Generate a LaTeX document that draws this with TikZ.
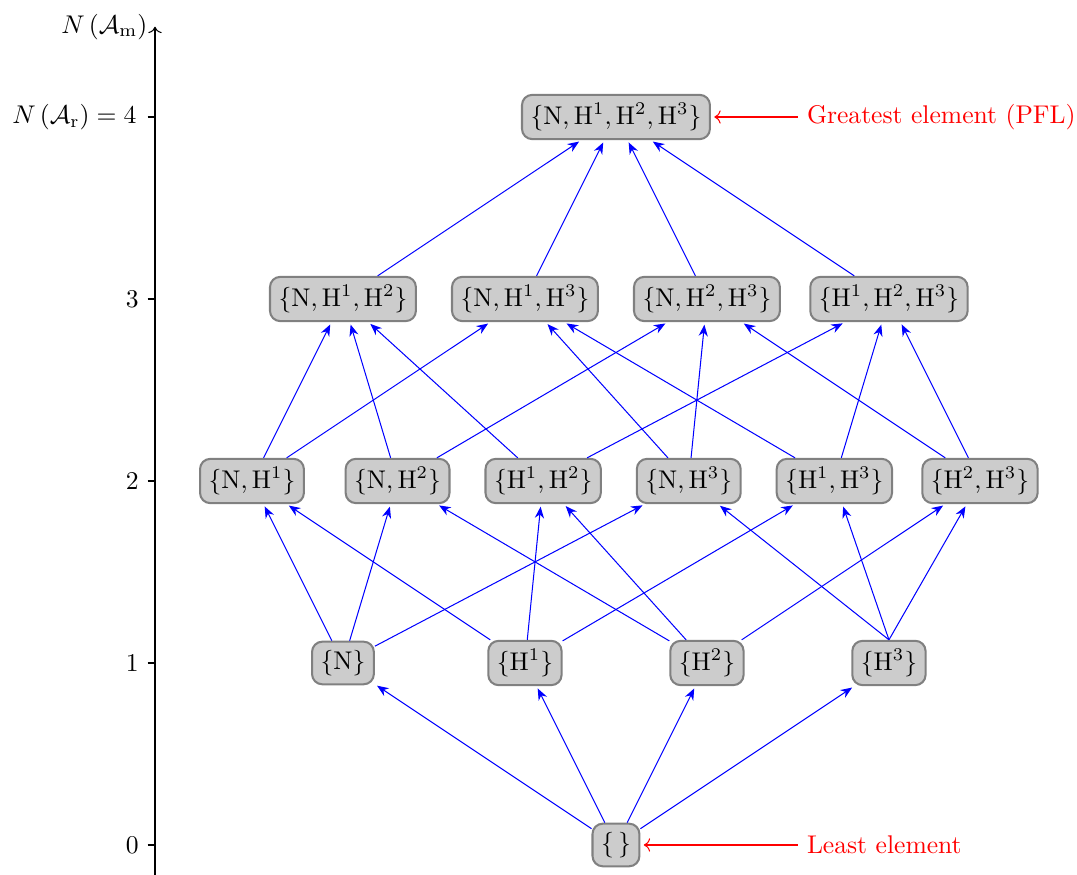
\documentclass[tikz,border=0pt]{standalone}
\usetikzlibrary{arrows.meta}
\begin{document}
\begin{tikzpicture}[
  setnode/.style={draw=gray, thick, fill=gray!40, rounded corners=4pt, inner sep=3.33pt},
  hasse/.style={blue, -{Stealth[length=4.5pt,width=3.6pt]}, shorten >=1pt},
  tag/.style={red, anchor=west},
  tagarrow/.style={red, ->, shorten >=1.3pt},
  tick/.style={black}
]
\useasboundingbox (-2.129,-0.412) rectangle (12.665,11.607);
% axis
\draw[->] (0,-0.45) -- (0,11.24) coordinate (axtop);
\node[anchor=east] (axlabel) at (0.02,11.24) {$N\left(\mathcal{A}_{\mathrm{m}}\right)$};
\foreach \k in {0,1,2,3} {
  \draw[tick] (-0.1,2.5*\k) -- (0,2.5*\k);
  \node[anchor=east] (lab\k) at (-0.1,2.5*\k) {$\k$};
}
\draw[tick] (-0.1,10) -- (0,10);
\node[anchor=east] (lab4) at (-0.13,10) {$N\left(\mathcal{A}_{\mathrm{r}}\right)=4$};

% level 0
\node[setnode] (e) at (6.332,0) {$\{\,\}$};
% level 1
\node[setnode] (n)  at (2.582,2.5) {$\{\mathrm{N}\}$};
\node[setnode] (h1) at (5.082,2.5) {$\{\mathrm{H}^1\}$};
\node[setnode] (h2) at (7.582,2.5) {$\{\mathrm{H}^2\}$};
\node[setnode] (h3) at (10.082,2.5) {$\{\mathrm{H}^3\}$};
% level 2
\node[setnode] (nh1) at (1.332,5) {$\{\mathrm{N},\mathrm{H}^1\}$};
\node[setnode] (nh2) at (3.332,5) {$\{\mathrm{N},\mathrm{H}^2\}$};
\node[setnode] (h12) at (5.332,5) {$\{\mathrm{H}^1,\mathrm{H}^2\}$};
\node[setnode] (nh3) at (7.332,5) {$\{\mathrm{N},\mathrm{H}^3\}$};
\node[setnode] (h13) at (9.332,5) {$\{\mathrm{H}^1,\mathrm{H}^3\}$};
\node[setnode] (h23) at (11.332,5) {$\{\mathrm{H}^2,\mathrm{H}^3\}$};
% level 3
\node[setnode] (nh12) at (2.582,7.5) {$\{\mathrm{N},\mathrm{H}^1,\mathrm{H}^2\}$};
\node[setnode] (nh13) at (5.082,7.5) {$\{\mathrm{N},\mathrm{H}^1,\mathrm{H}^3\}$};
\node[setnode] (nh23) at (7.582,7.5) {$\{\mathrm{N},\mathrm{H}^2,\mathrm{H}^3\}$};
\node[setnode] (h123) at (10.082,7.5) {$\{\mathrm{H}^1,\mathrm{H}^2,\mathrm{H}^3\}$};
% level 4
\node[setnode] (all) at (6.332,10) {$\{\mathrm{N},\mathrm{H}^1,\mathrm{H}^2,\mathrm{H}^3\}$};

% edges 0 -> 1
\foreach \b in {n,h1,h2,h3} \draw[hasse] (e) -- (\b);
% edges 1 -> 2
\foreach \a/\b in {n/nh1,n/nh2,n/nh3,h1/nh1,h1/h12,h1/h13,h2/nh2,h2/h12,h2/h23}
  \draw[hasse] (\a) -- (\b);
\foreach \b in {nh3,h13,h23}
  \draw[hasse] (h3.north) -- (\b);
% edges 2 -> 3
\foreach \a/\b in {nh1/nh12,nh1/nh13,nh2/nh12,nh2/nh23,h12/nh12,h12/h123,nh3/nh13,nh3/nh23,h13/nh13,h13/h123,h23/nh23,h23/h123}
  \draw[hasse] (\a) -- (\b);
% edges 3 -> 4
\foreach \a in {nh12,nh13,nh23,h123} \draw[hasse] (\a) -- (all);

% annotations
\node[tag] (great) at (8.832,10) {Greatest element (PFL)};
\node[tag] (least) at (8.832,0) {Least element};
\draw[tagarrow] (great) -- (all);
\draw[tagarrow] (least) -- (e);
\end{tikzpicture}
\end{document}
